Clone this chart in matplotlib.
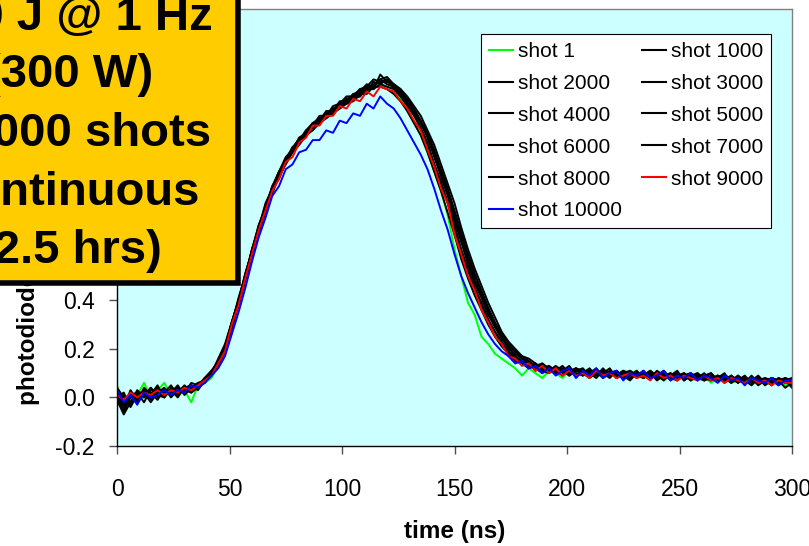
import numpy as np
import matplotlib
matplotlib.use("Agg")
import matplotlib.pyplot as plt
from matplotlib.patches import Rectangle

plt.rcParams['font.family'] = ['Liberation Sans', 'DejaVu Sans']

# scope time base (ns), one sample every 3 ns
time_ns = np.arange(0, 301, 3)

# photodiode traces
shot_1 = [0.05, -0.03, 0.02, 0.01, 0.06, 0.00, 0.03, 0.06, 0.01, 0.02,
          0.03, -0.02, 0.05, 0.06, 0.08, 0.13, 0.19, 0.29, 0.38, 0.48,
          0.60, 0.68, 0.78, 0.86, 0.91, 0.98, 1.01, 1.06, 1.09, 1.11,
          1.14, 1.16, 1.18, 1.19, 1.22, 1.22, 1.25, 1.26, 1.28, 1.29,
          1.28, 1.27, 1.23, 1.18, 1.13, 1.08, 1.01, 0.93, 0.85, 0.75,
          0.61, 0.50, 0.39, 0.34, 0.25, 0.22, 0.18, 0.16, 0.14, 0.12,
          0.09, 0.12, 0.10, 0.08, 0.11, 0.10, 0.08, 0.11, 0.10, 0.12,
          0.09, 0.10, 0.08, 0.11, 0.09, 0.08, 0.10, 0.11, 0.08, 0.09,
          0.10, 0.07, 0.09, 0.08, 0.10, 0.07, 0.08, 0.09, 0.06, 0.08,
          0.08, 0.06, 0.07, 0.08, 0.05, 0.07, 0.06, 0.08, 0.06, 0.05,
          0.06]

shot_1000 = [0.02, -0.04, 0.03, -0.01, 0.03, 0.00, 0.04, 0.01, 0.02, 0.05,
             0.01, 0.04, 0.06, 0.06, 0.10, 0.15, 0.21, 0.31, 0.40, 0.50,
             0.60, 0.70, 0.78, 0.86, 0.92, 0.97, 1.02, 1.05, 1.09, 1.12,
             1.13, 1.17, 1.18, 1.21, 1.22, 1.24, 1.25, 1.28, 1.28, 1.31,
             1.29, 1.28, 1.25, 1.21, 1.17, 1.11, 1.05, 0.96, 0.89, 0.80,
             0.71, 0.61, 0.53, 0.45, 0.39, 0.32, 0.27, 0.22, 0.19, 0.16,
             0.15, 0.12, 0.14, 0.11, 0.13, 0.10, 0.12, 0.09, 0.11, 0.10,
             0.12, 0.09, 0.10, 0.08, 0.11, 0.09, 0.07, 0.10, 0.09, 0.11,
             0.08, 0.10, 0.07, 0.09, 0.10, 0.07, 0.09, 0.08, 0.10, 0.07,
             0.08, 0.06, 0.09, 0.07, 0.05, 0.08, 0.07, 0.05, 0.08, 0.06,
             0.07]

shot_2000 = [-0.03, 0.01, -0.02, 0.03, 0.00, 0.04, 0.01, 0.00, 0.04, 0.02,
             0.05, 0.02, 0.04, 0.08, 0.11, 0.14, 0.20, 0.29, 0.39, 0.50,
             0.61, 0.69, 0.79, 0.86, 0.93, 0.98, 1.03, 1.06, 1.10, 1.13,
             1.15, 1.16, 1.19, 1.20, 1.23, 1.24, 1.27, 1.26, 1.30, 1.29,
             1.31, 1.27, 1.26, 1.22, 1.18, 1.13, 1.08, 1.00, 0.92, 0.84,
             0.75, 0.65, 0.57, 0.48, 0.42, 0.35, 0.29, 0.25, 0.20, 0.18,
             0.16, 0.14, 0.12, 0.13, 0.11, 0.12, 0.10, 0.11, 0.12, 0.09,
             0.10, 0.11, 0.08, 0.10, 0.09, 0.11, 0.10, 0.08, 0.10, 0.09,
             0.10, 0.08, 0.09, 0.10, 0.07, 0.09, 0.08, 0.10, 0.07, 0.09,
             0.07, 0.09, 0.06, 0.08, 0.07, 0.08, 0.05, 0.07, 0.06, 0.08,
             0.05]

shot_3000 = [0.01, -0.06, 0.00, 0.02, -0.02, 0.03, 0.02, 0.04, 0.00, 0.03,
             0.03, 0.05, 0.03, 0.07, 0.10, 0.15, 0.20, 0.31, 0.39, 0.51,
             0.60, 0.71, 0.78, 0.87, 0.91, 0.98, 1.02, 1.07, 1.08, 1.13,
             1.14, 1.17, 1.17, 1.21, 1.21, 1.25, 1.24, 1.28, 1.27, 1.33,
             1.30, 1.29, 1.27, 1.23, 1.19, 1.14, 1.09, 1.02, 0.94, 0.86,
             0.77, 0.68, 0.59, 0.51, 0.44, 0.37, 0.31, 0.26, 0.22, 0.19,
             0.17, 0.15, 0.13, 0.14, 0.12, 0.11, 0.13, 0.10, 0.11, 0.12,
             0.09, 0.11, 0.10, 0.12, 0.08, 0.10, 0.11, 0.09, 0.08, 0.10,
             0.09, 0.11, 0.08, 0.07, 0.10, 0.08, 0.09, 0.07, 0.09, 0.08,
             0.09, 0.07, 0.08, 0.06, 0.09, 0.06, 0.08, 0.07, 0.05, 0.07,
             0.08]

shot_4000 = [0.00, 0.02, -0.04, 0.01, 0.03, -0.01, 0.03, 0.02, 0.05, 0.01,
             0.04, 0.03, 0.06, 0.07, 0.09, 0.14, 0.21, 0.30, 0.40, 0.49,
             0.61, 0.70, 0.79, 0.85, 0.92, 0.97, 1.03, 1.05, 1.10, 1.11,
             1.15, 1.15, 1.19, 1.19, 1.23, 1.23, 1.26, 1.27, 1.29, 1.30,
             1.31, 1.28, 1.26, 1.23, 1.18, 1.14, 1.08, 1.01, 0.93, 0.85,
             0.76, 0.66, 0.58, 0.50, 0.43, 0.36, 0.30, 0.25, 0.21, 0.19,
             0.16, 0.15, 0.12, 0.14, 0.11, 0.13, 0.11, 0.10, 0.12, 0.10,
             0.11, 0.09, 0.12, 0.09, 0.10, 0.08, 0.11, 0.09, 0.10, 0.08,
             0.11, 0.09, 0.08, 0.10, 0.08, 0.09, 0.10, 0.07, 0.08, 0.09,
             0.06, 0.08, 0.07, 0.09, 0.06, 0.07, 0.08, 0.06, 0.07, 0.04,
             0.06]

shot_5000 = [-0.02, -0.05, 0.01, 0.02, 0.00, 0.02, -0.01, 0.03, 0.02, 0.04,
             0.02, 0.04, 0.05, 0.06, 0.10, 0.13, 0.20, 0.30, 0.38, 0.49,
             0.59, 0.69, 0.76, 0.86, 0.90, 0.97, 1.01, 1.06, 1.08, 1.12,
             1.13, 1.16, 1.17, 1.20, 1.21, 1.23, 1.24, 1.27, 1.27, 1.29,
             1.28, 1.27, 1.24, 1.20, 1.16, 1.11, 1.04, 0.96, 0.88, 0.80,
             0.70, 0.60, 0.52, 0.45, 0.38, 0.32, 0.27, 0.23, 0.19, 0.17,
             0.14, 0.13, 0.12, 0.10, 0.12, 0.11, 0.09, 0.12, 0.10, 0.09,
             0.11, 0.10, 0.09, 0.11, 0.08, 0.10, 0.09, 0.11, 0.08, 0.10,
             0.07, 0.09, 0.10, 0.08, 0.09, 0.07, 0.10, 0.08, 0.07, 0.09,
             0.08, 0.07, 0.09, 0.06, 0.08, 0.07, 0.06, 0.08, 0.07, 0.06,
             0.08]

shot_6000 = [0.04, 0.00, -0.03, 0.02, 0.01, 0.04, 0.00, 0.02, 0.03, 0.00,
             0.04, 0.05, 0.04, 0.08, 0.11, 0.15, 0.21, 0.30, 0.41, 0.50,
             0.61, 0.71, 0.78, 0.87, 0.93, 0.99, 1.02, 1.07, 1.09, 1.13,
             1.14, 1.18, 1.18, 1.22, 1.22, 1.25, 1.26, 1.29, 1.28, 1.31,
             1.32, 1.29, 1.27, 1.24, 1.20, 1.16, 1.10, 1.04, 0.96, 0.88,
             0.80, 0.70, 0.61, 0.53, 0.46, 0.39, 0.33, 0.27, 0.23, 0.20,
             0.17, 0.16, 0.14, 0.12, 0.13, 0.11, 0.12, 0.10, 0.12, 0.11,
             0.10, 0.12, 0.09, 0.10, 0.11, 0.08, 0.10, 0.09, 0.11, 0.08,
             0.10, 0.08, 0.09, 0.11, 0.07, 0.09, 0.08, 0.09, 0.10, 0.07,
             0.09, 0.08, 0.06, 0.08, 0.07, 0.09, 0.06, 0.08, 0.07, 0.08,
             0.07]

shot_7000 = [-0.01, -0.07, -0.02, 0.01, 0.02, -0.02, 0.02, 0.03, 0.01, 0.02,
             0.03, 0.02, 0.05, 0.07, 0.09, 0.13, 0.19, 0.28, 0.38, 0.48,
             0.58, 0.68, 0.77, 0.84, 0.91, 0.96, 1.01, 1.04, 1.08, 1.10,
             1.13, 1.15, 1.17, 1.19, 1.21, 1.22, 1.25, 1.25, 1.28, 1.28,
             1.27, 1.25, 1.22, 1.18, 1.13, 1.08, 1.01, 0.93, 0.85, 0.76,
             0.67, 0.57, 0.49, 0.42, 0.36, 0.30, 0.25, 0.21, 0.18, 0.15,
             0.14, 0.12, 0.13, 0.11, 0.10, 0.12, 0.11, 0.09, 0.11, 0.10,
             0.08, 0.10, 0.11, 0.09, 0.10, 0.09, 0.08, 0.10, 0.09, 0.11,
             0.09, 0.07, 0.10, 0.08, 0.09, 0.10, 0.07, 0.09, 0.08, 0.08,
             0.07, 0.09, 0.07, 0.08, 0.06, 0.08, 0.07, 0.05, 0.08, 0.07,
             0.04]

shot_8000 = [0.03, -0.03, 0.01, -0.02, 0.04, 0.01, 0.05, 0.00, 0.03, 0.04,
             0.02, 0.06, 0.05, 0.08, 0.10, 0.16, 0.22, 0.31, 0.40, 0.51,
             0.60, 0.70, 0.80, 0.86, 0.93, 0.97, 1.03, 1.06, 1.09, 1.12,
             1.16, 1.16, 1.20, 1.21, 1.24, 1.24, 1.27, 1.28, 1.31, 1.30,
             1.30, 1.29, 1.26, 1.22, 1.19, 1.13, 1.07, 0.99, 0.91, 0.83,
             0.73, 0.64, 0.55, 0.47, 0.41, 0.34, 0.29, 0.24, 0.21, 0.17,
             0.15, 0.14, 0.11, 0.13, 0.12, 0.10, 0.11, 0.13, 0.09, 0.11,
             0.10, 0.08, 0.11, 0.10, 0.09, 0.11, 0.08, 0.10, 0.09, 0.10,
             0.08, 0.10, 0.09, 0.07, 0.09, 0.10, 0.08, 0.07, 0.09, 0.08,
             0.10, 0.06, 0.08, 0.07, 0.08, 0.05, 0.07, 0.08, 0.06, 0.08,
             0.06]

shot_9000 = [0.01, -0.01, 0.02, 0.00, 0.02, 0.01, 0.03, 0.01, 0.03, 0.02,
             0.04, 0.03, 0.05, 0.07, 0.09, 0.14, 0.19, 0.30, 0.38, 0.49,
             0.59, 0.69, 0.77, 0.85, 0.90, 0.97, 0.99, 1.05, 1.07, 1.12,
             1.12, 1.16, 1.16, 1.20, 1.19, 1.23, 1.22, 1.26, 1.24, 1.28,
             1.27, 1.26, 1.22, 1.19, 1.14, 1.10, 1.02, 0.95, 0.86, 0.80,
             0.67, 0.59, 0.50, 0.44, 0.36, 0.31, 0.25, 0.22, 0.17, 0.16,
             0.13, 0.14, 0.11, 0.13, 0.10, 0.12, 0.09, 0.11, 0.09, 0.10,
             0.08, 0.11, 0.09, 0.10, 0.08, 0.09, 0.10, 0.08, 0.09, 0.07,
             0.10, 0.08, 0.09, 0.07, 0.09, 0.08, 0.07, 0.09, 0.07, 0.08,
             0.06, 0.08, 0.07, 0.06, 0.08, 0.06, 0.07, 0.05, 0.07, 0.06,
             0.06]

shot_10000 = [0.03, -0.02, 0.01, -0.03, 0.02, 0.00, 0.01, 0.03, 0.01, 0.03,
              0.02, 0.05, 0.04, 0.06, 0.09, 0.12, 0.17, 0.26, 0.35, 0.45,
              0.56, 0.66, 0.74, 0.83, 0.87, 0.94, 0.96, 1.01, 1.02, 1.06,
              1.06, 1.10, 1.09, 1.14, 1.13, 1.17, 1.16, 1.21, 1.19, 1.24,
              1.21, 1.19, 1.15, 1.10, 1.05, 1.00, 0.94, 0.86, 0.77, 0.69,
              0.59, 0.50, 0.43, 0.37, 0.31, 0.26, 0.22, 0.19, 0.17, 0.14,
              0.15, 0.12, 0.13, 0.10, 0.12, 0.09, 0.11, 0.12, 0.08, 0.11,
              0.09, 0.12, 0.08, 0.10, 0.11, 0.07, 0.10, 0.09, 0.11, 0.08,
              0.09, 0.11, 0.07, 0.09, 0.08, 0.10, 0.07, 0.09, 0.08, 0.06,
              0.09, 0.07, 0.08, 0.05, 0.08, 0.07, 0.06, 0.08, 0.05, 0.07,
              0.07]

# drawing order (first = bottom)
traces = [
    ("shot 1", shot_1, "#00ff00"),
    ("shot 1000", shot_1000, "black"),
    ("shot 2000", shot_2000, "black"),
    ("shot 3000", shot_3000, "black"),
    ("shot 4000", shot_4000, "black"),
    ("shot 5000", shot_5000, "black"),
    ("shot 6000", shot_6000, "black"),
    ("shot 7000", shot_7000, "black"),
    ("shot 8000", shot_8000, "black"),
    ("shot 9000", shot_9000, "#ff0000"),
    ("shot 10000", shot_10000, "#0000ff"),
]

box_lines = ["10 J @ 1 Hz", "(300 W)", "10000 shots", "continuous", "(2.5 hrs)"]

W, H = 809, 546
fig = plt.figure(figsize=(W / 100, H / 100), dpi=100)
ax = fig.add_axes([117 / W, 1 - 446 / H, (792 - 117) / W, (446 - 9) / H])
ax.set_facecolor("#ccffff")

lines = {}
for label, vals, color in traces:
    ln, = ax.plot(time_ns, vals, color=color, lw=1.4, label=label)
    lines[label] = ln

ax.set_xlim(0, 300)
ax.set_ylim(-0.2, 1.6)
ax.set_xticks(np.arange(0, 301, 50))
ax.set_yticks(np.arange(-0.2, 1.61, 0.2))
ax.yaxis.set_major_formatter(plt.FormatStrFormatter("%.1f"))
ax.tick_params(axis="x", direction="out", length=6, width=1, color="#505050",
               labelsize=16.5, pad=17)
ax.tick_params(axis="y", direction="out", length=6, width=1, color="#505050",
               labelsize=16.5, pad=10)
for side in ["left", "bottom"]:
    ax.spines[side].set_color("black")
    ax.spines[side].set_linewidth(1.0)
for side in ["top", "right"]:
    ax.spines[side].set_color("#808080")
    ax.spines[side].set_linewidth(1.0)

ax.set_xlabel("time (ns)", fontsize=17.5, fontweight="bold", labelpad=14)
fig.text(29 / W, 1 - 405 / H, "photodiode signal (V)", rotation=90,
         ha="center", va="bottom", fontsize=17.5, fontweight="bold", zorder=2)

# legend filled row by row like the original
order = ["shot 1", "shot 2000", "shot 4000", "shot 6000", "shot 8000", "shot 10000",
         "shot 1000", "shot 3000", "shot 5000", "shot 7000", "shot 9000"]
leg = ax.legend([lines[k] for k in order], order, ncol=2, loc="upper left",
                bbox_to_anchor=(481 / W, 1 - 34 / H), bbox_transform=fig.transFigure,
                borderaxespad=0, fontsize=15, handlelength=1.15, handletextpad=0.25,
                columnspacing=0.95, labelspacing=0.62, borderpad=0.38,
                fancybox=False, framealpha=1, edgecolor="black")
leg.get_frame().set_linewidth(0.8)
for ln in leg.get_lines():
    ln.set_linewidth(1.5)

# yellow annotation box sticking out of the top-left corner
fig.add_artist(Rectangle((-150 / W, 1 - 283 / H), (237.5 + 150) / W, 400 / H,
                         transform=fig.transFigure, facecolor="#ffcc00",
                         edgecolor="black", lw=4, zorder=10, clip_on=False))
right_ends = [213, 153, 211, 200, 162]
baselines = [30, 87, 146, 205, 263]
for txt, xr, yb in zip(box_lines, right_ends, baselines):
    fig.text(xr / W, 1 - yb / H, txt, ha="right", va="baseline",
             fontsize=34, fontweight="bold", zorder=11)

fig.savefig("out.png", dpi=100)
